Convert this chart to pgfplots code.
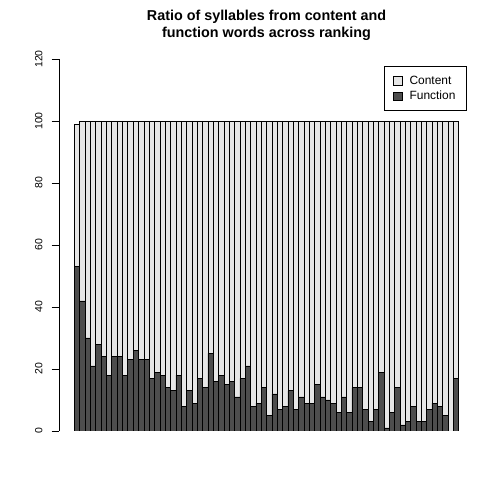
\documentclass[border=0pt]{standalone}
\usepackage{pgfplots}
\usepackage{pgfplotstable}
\usepackage{fontspec}
\setmainfont{Liberation Sans}
\pgfplotsset{compat=1.18}
\definecolor{contentgray}{HTML}{E6E6E6}
\definecolor{functiongray}{HTML}{4D4D4D}
\pgfplotstableread{
x f c
0.5 53 46
1.5 42 58
2.5 30 70
3.5 21 79
4.5 28 72
5.5 24 76
6.5 18 82
7.5 24 76
8.5 24 76
9.5 18 82
10.5 23 77
11.5 26 74
12.5 23 77
13.5 23 77
14.5 17 83
15.5 19 81
16.5 18 82
17.5 14 86
18.5 13 87
19.5 18 82
20.5 8 92
21.5 13 87
22.5 9 91
23.5 17 83
24.5 14 86
25.5 25 75
26.5 16 84
27.5 18 82
28.5 15 85
29.5 16 84
30.5 11 89
31.5 17 83
32.5 21 79
33.5 8 92
34.5 9 91
35.5 14 86
36.5 5 95
37.5 12 88
38.5 7 93
39.5 8 92
40.5 13 87
41.5 7 93
42.5 11 89
43.5 9 91
44.5 9 91
45.5 15 85
46.5 11 89
47.5 10 90
48.5 9 91
49.5 6 94
50.5 11 89
51.5 6 94
52.5 14 86
53.5 14 86
54.5 7 93
55.5 3 97
56.5 7 93
57.5 19 81
58.5 1 99
59.5 6 94
60.5 14 86
61.5 2 98
62.5 3 97
63.5 8 92
64.5 3 97
65.5 3 97
66.5 7 93
67.5 9 91
68.5 8 92
69.5 5 95
70.5 0 100
71.5 17 83
}\ratio
\begin{document}
\begin{tikzpicture}
\path[use as bounding box] (0,0) rectangle (504bp,504bp);
\begin{axis}[
  at={(59bp,73bp)}, anchor=south west,
  scale only axis, width=415bp, height=372bp,
  xmin=-2.88, xmax=74.88, ymin=0, ymax=120,
  separate axis lines,
  axis x line=none,
  axis y line*=left,
  y axis line style={-, line width=0.6bp},
  ytick={0,20,40,60,80,100,120},
  tick align=outside,
  major tick length=7.4bp,
  tick style={line width=0.6bp, black},
  yticklabel style={rotate=90, anchor=south, inner sep=0pt, yshift=9bp, font=\fontsize{10.5}{12}\selectfont},
  /pgf/number format/assume math mode=true,
  ybar stacked, bar width=1,
  title={Ratio of syllables from content and\\function words across ranking},
  title style={at={(0.5,1.075)}, anchor=center, align=center, font=\bfseries\fontsize{14.4}{17.5}\selectfont},
  legend image code/.code={\path[draw=none,fill=none] (0bp,0bp) -- (14bp,0bp); \draw[#1, draw=black, line width=0.5bp] (0bp,-4.3bp) rectangle (8.7bp,4.3bp);},
  reverse legend,
  legend cell align=left,
  legend style={at={(0.9824,0.9812)}, anchor=north east, draw=black, line width=0.6bp,
    font=\fontsize{12}{14}\selectfont, inner xsep=9bp, inner ysep=7.5bp,
    row sep=1.5bp},
]
\addplot[fill=functiongray, draw=black, line width=0.5bp] table[x=x, y=f] {\ratio};
\addplot[fill=contentgray, draw=black, line width=0.5bp] table[x=x, y=c] {\ratio};
\legend{Function, Content}
\end{axis}
\end{tikzpicture}
\end{document}
